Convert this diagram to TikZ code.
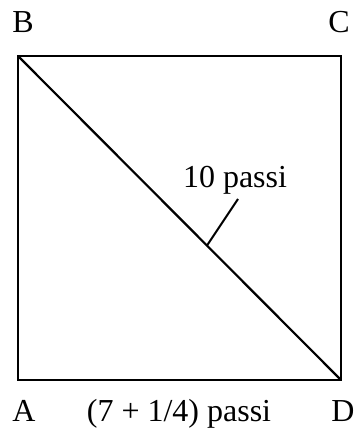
\documentclass[tikz,border=0pt]{standalone}
\usepackage{fontspec}
\setmainfont{Liberation Serif}
\usetikzlibrary{positioning, calc}

\begin{document}
\begin{tikzpicture}[
  x=1pt, y=1pt,
  edge/.style={draw, line width=2.2pt, line join=miter},
  lbl/.style={font=\fontsize{32}{38}\selectfont, inner sep=0pt, anchor=base},
  lead/.style={draw, line width=2pt}
]
  \useasboundingbox (0,0) rectangle (361,432);

  % Corners
  \coordinate (A) at (18,52);
  \coordinate (B) at (18,376);
  \coordinate (C) at (341,376);
  \coordinate (D) at (341,52);

  % Square and diagonal
  \draw[edge] (A) -- (B) -- (C) -- (D) -- cycle;
  \draw[edge] (B) -- (D);

  % Labels
  \node[lbl] (lB) at (23,399) {B};
  \node[lbl] (lC) at (339,399) {C};
  \node[lbl] (lA) at (24,10) {A};
  \node[lbl] (lD) at (343,10) {D};
  \node[lbl] (base) at (179,10) {(7 + 1/4) passi};
  \node[lbl] (diag) at (235,244) {10 passi};

  % Leader to the diagonal
  \path (B) -- (D) coordinate[pos=0.585] (m);
  \coordinate (t) at (238,233);
  \draw[lead] (t) -- (m);
\end{tikzpicture}
\end{document}
